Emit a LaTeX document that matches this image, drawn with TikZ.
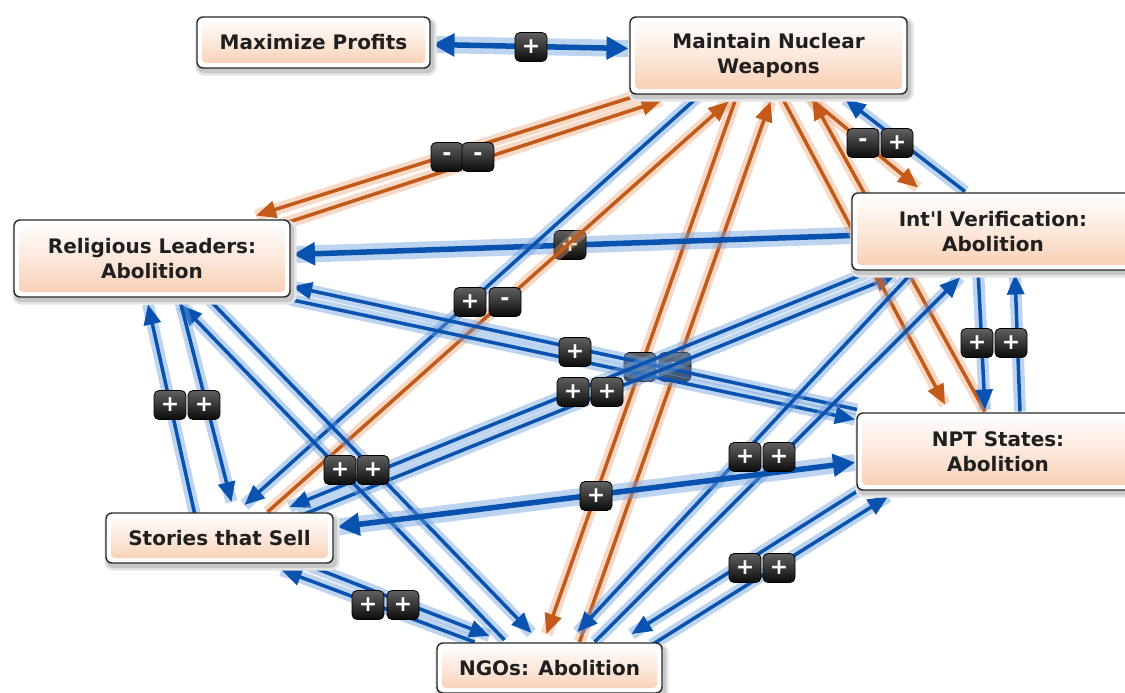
\documentclass[tikz,border=0pt]{standalone}
\usepackage{fontspec}
\newfontfamily\boxfont{DejaVu Sans}
\usetikzlibrary{arrows.meta}

\definecolor{peach}{RGB}{248,204,176}
\definecolor{bluecore}{RGB}{10,82,176}
\definecolor{bluehalo}{RGB}{110,160,222}
\definecolor{orgcore}{RGB}{196,90,26}
\definecolor{orghalo}{RGB}{236,160,112}
\definecolor{boxline}{RGB}{40,40,40}

\pgfdeclarelayer{backdrop}
\pgfdeclarelayer{links}
\pgfdeclarelayer{shadow}
\pgfsetlayers{backdrop,links,shadow,main}

\tikzset{
  concept/.style={draw=boxline, line width=1.4pt, rounded corners=6pt, fill=white,
    font=\boxfont\bfseries\fontsize{20}{25}\selectfont, text=black!88,
    align=center, inner sep=0pt,
    path picture={\shade[top color=white, bottom color=peach, middle color=white!55!peach, rounded corners=4pt]
      ([xshift=5pt,yshift=-5pt]path picture bounding box.north west) rectangle
      ([xshift=-5pt,yshift=5pt]path picture bounding box.south east);}},
  badge/.style={draw=black, line width=0.8pt, rounded corners=5pt,
    top color=black!62, bottom color=black!96,
    minimum width=32pt, minimum height=29pt, inner sep=0pt, text=white,
    font=\boxfont\bfseries\fontsize{22}{22}\selectfont},
  bhalo/.style={line width=12pt, draw=bluehalo, opacity=0.45},
  bcore/.style={line width=3.5pt, draw=bluecore, -{Triangle[length=20pt,width=17pt]}},
  ohalo/.style={line width=12pt, draw=orghalo, opacity=0.4},
  ocore/.style={line width=3.5pt, draw=orgcore, -{Triangle[length=20pt,width=17pt]}},
  bWhalo/.style={line width=17pt, draw=bluehalo, opacity=0.45},
  bWcore/.style={line width=5.5pt, draw=bluecore, -{Triangle[length=22pt,width=22pt]}},
  bWWcore/.style={line width=5.5pt, draw=bluecore, {Triangle[length=22pt,width=22pt]}-{Triangle[length=22pt,width=22pt]}},
  shadowout/.style={fill=black!10, rounded corners=9pt},
  shadowin/.style={fill=black!22, rounded corners=7pt},
}

% one causal link: #1 look (b, o, bW), #2/#3 source node and offset, #4/#5 target node and offset
\newcommand\lnk[5]{%
  \draw[#1halo] ([shift={(#3)}]#2.center) -- ([shift={(#5)}]#4.center);
  \draw[#1core] ([shift={(#3)}]#2.center) -- ([shift={(#5)}]#4.center);}
% a two-way link with a single badge
\newcommand\lnkboth[4]{%
  \draw[bWhalo] ([shift={(#2)}]#1.center) -- ([shift={(#4)}]#3.center);
  \draw[bWWcore] ([shift={(#2)}]#1.center) -- ([shift={(#4)}]#3.center);}
% soft drop shadow under a concept
\newcommand\boxshadow[1]{%
  \path[shadowout] ([xshift=-1pt,yshift=-1pt]#1.north west) rectangle ([xshift=6pt,yshift=-7pt]#1.south east);
  \path[shadowin]  ([xshift=1pt,yshift=-3pt]#1.north west) rectangle ([xshift=3.5pt,yshift=-4.5pt]#1.south east);}

\begin{document}
\begin{tikzpicture}[x=1pt,y=-1pt]
\useasboundingbox (0,0) rectangle (1125,693);
\begin{pgfonlayer}{backdrop}
  \fill[white] (0,0) rectangle (1125,693);
\end{pgfonlayer}

% concepts
\node[concept, minimum width=233pt, minimum height=51pt] (mp)  at (313.5,42.5) {Maximize Profits};
\node[concept, minimum width=277pt, minimum height=77pt] (mnw) at (768.5,55.5) {Maintain Nuclear\\Weapons};
\node[concept, minimum width=276pt, minimum height=77pt] (rl)  at (152,258.5)  {Religious Leaders:\\Abolition};
\node[concept, minimum width=282pt, minimum height=77pt] (iv)  at (993,231.5)  {Int'l Verification:\\Abolition};
\node[concept, minimum width=282pt, minimum height=77pt] (npt) at (998,451.5)  {NPT States:\\Abolition};
\node[concept, minimum width=227pt, minimum height=50pt] (st)  at (219.5,538)  {Stories that Sell};
\node[concept, minimum width=225pt, minimum height=50pt] (ngo) at (549.5,668)  {NGOs: Abolition};

\begin{pgfonlayer}{shadow}
  \boxshadow{mp}
  \boxshadow{mnw}
  \boxshadow{rl}
  \boxshadow{iv}
  \boxshadow{npt}
  \boxshadow{st}
  \boxshadow{ngo}
\end{pgfonlayer}

\begin{pgfonlayer}{links}
  % weapons <-> NGOs
  \lnk{o}{mnw}{-33,44}{ngo}{-3,-34}
  \lnk{o}{ngo}{30,-26}{mnw}{2,46}
  \node[badge] (b9a) at (640,367) {-};
  \node[badge] (b9b) at (675,367) {-};
  % verification -> religious leaders
  \lnk{bW}{iv}{-141,4}{rl}{141,-4}
  \node[badge] (b4) at (570,245) {+};

  % profits <-> weapons
  \lnkboth{mp}{119,2}{mnw}{-140,-7}
  % weapons <-> religious leaders
  \lnk{o}{mnw}{-112,34}{rl}{104,-43}
  \lnk{o}{rl}{123,-32}{mnw}{-107,45}
  % weapons <-> stories
  \lnk{b}{mnw}{-68,39}{st}{25,-33}
  \lnk{o}{st}{48,-26}{mnw}{-40,46}
  % NPT <-> religious leaders
  \lnk{b}{npt}{-141,-42}{rl}{140,28}
  \lnk{b}{rl}{138,41}{npt}{-143,-32}
  % verification <-> stories
  \lnk{b}{iv}{-113,36}{st}{70,-31}
  \lnk{b}{st}{80,-22}{iv}{-98,44}
  % weapons <-> verification
  \lnk{o}{mnw}{37,39}{iv}{-75,-44}
  \lnk{b}{iv}{-28,-40}{mnw}{77,44}
  % weapons <-> NPT
  \lnk{o}{mnw}{12,39}{npt}{-53,-47}
  \lnk{o}{npt}{-13,-40}{mnw}{44,44}
  % verification <-> NPT
  \lnk{b}{iv}{-15,38}{npt}{-13,-42}
  \lnk{b}{npt}{22,-40}{iv}{22,43}
  % verification <-> NGOs
  \lnk{b}{iv}{-78,38}{ngo}{28,-36}
  \lnk{b}{ngo}{45,-26}{iv}{-33,46}
  % NPT <-> NGOs
  \lnk{b}{npt}{-138,38}{ngo}{82,-34}
  \lnk{b}{ngo}{102,-23}{npt}{-110,45}
  % NGOs <-> stories
  \lnk{b}{ngo}{-75,-26}{st}{62,32}
  \lnk{b}{st}{80,24}{ngo}{-60,-32}
  % NGOs <-> religious leaders
  \lnk{b}{ngo}{-45,-28}{rl}{30,47}
  \lnk{b}{rl}{58,42}{ngo}{-18,-35}
  % stories <-> religious leaders
  \lnk{b}{st}{-25,-25}{rl}{-4,46}
  \lnk{b}{rl}{28,42}{st}{12,-36}
  % NPT <-> stories
  \lnkboth{npt}{-143,11}{st}{118,-11}

  % polarity badges
  \node[badge] (b1)  at (531,47)  {+};
  \node[badge] (b2a) at (447,157) {-};
  \node[badge] (b2b) at (478,157) {-};
  \node[badge] (b3a) at (863,143) {-};
  \node[badge] (b3b) at (897,143) {+};
  \node[badge] (b5a) at (470,302) {+};
  \node[badge] (b5b) at (505,302) {-};
  \node[badge] (b6a) at (170,405) {+};
  \node[badge] (b6b) at (204,405) {+};
  \node[badge] (b7)  at (575,352) {+};
  \node[badge] (b8a) at (573,392) {+};
  \node[badge] (b8b) at (607,392) {+};
  \node[badge] (b10a) at (977,343) {+};
  \node[badge] (b10b) at (1011,343) {+};
  \node[badge] (b11a) at (340,470) {+};
  \node[badge] (b11b) at (373,470) {+};
  \node[badge] (b12a) at (745,457) {+};
  \node[badge] (b12b) at (779,457) {+};
  \node[badge] (b13)  at (596,496) {+};
  \node[badge] (b14a) at (745,568) {+};
  \node[badge] (b14b) at (779,568) {+};
  \node[badge] (b15a) at (368,605) {+};
  \node[badge] (b15b) at (403,605) {+};
\end{pgfonlayer}
\end{tikzpicture}
\end{document}
